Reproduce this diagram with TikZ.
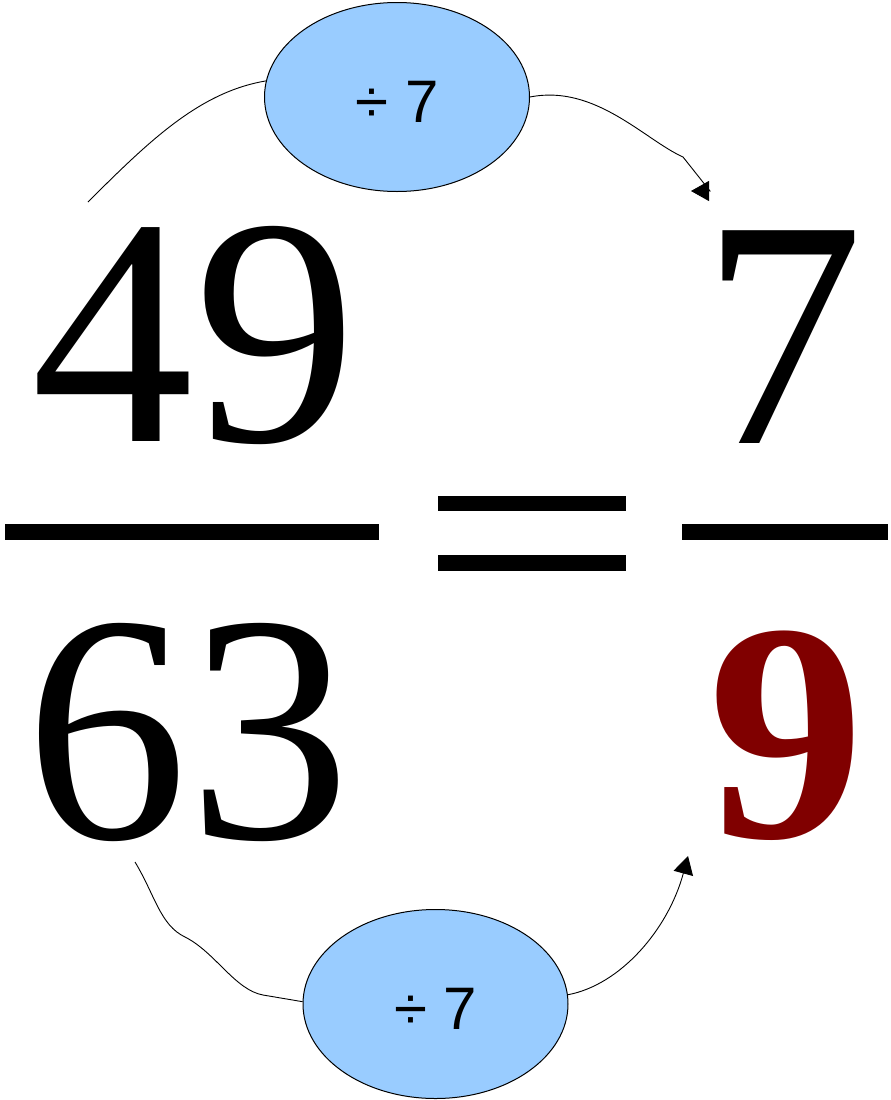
\documentclass[tikz,border=0pt]{standalone}
\usepackage{fontspec}
\setmainfont{Liberation Serif}
\newfontfamily\opfont{Liberation Sans}
\usepackage{tikz}
\usetikzlibrary{arrows.meta,shapes.geometric}
\definecolor{bubble}{HTML}{99CCFF}
\definecolor{answer}{HTML}{800000}

\begin{document}
\begin{tikzpicture}[x=1pt, y=-1pt, >={Triangle[length=18pt,width=20pt]},
  bigfig/.style={font=\fontsize{325}{325}\selectfont, inner sep=0pt, anchor=base},
  divop/.style={ellipse, draw, line width=1pt, fill=bubble, minimum width=265pt,
    minimum height=189pt, inner sep=0pt, text height=51pt, text depth=0pt,
    font=\opfont\fontsize{60}{60}\selectfont},
  link/.style={line width=0.9pt}]
\useasboundingbox (0,0) rectangle (891,1100);
% the two fractions
\node[bigfig] (n49) at (194,441) {49};
\node[bigfig] (n63) at (188,838) {63};
\node[bigfig] (n7) at (783,443) {7};
\node[bigfig, answer, font=\bfseries\fontsize{312}{312}\selectfont] (n9) at (786,837) {9};
% bars and equals sign
\fill (5,524) rectangle (379,540);
\fill (682,524) rectangle (888,540);
\fill (438,496) rectangle (626,511);
\fill (438,555) rectangle (626,571);
% divide by 7 bubbles
\node[divop] (top) at (397,97) {÷ 7};
\node[divop] (bot) at (435.5,1004) {÷ 7};
% loose ends of the links
\coordinate (s1) at (88,202);
\coordinate (t1) at (691,191);
\coordinate (s2) at (135,862);
\coordinate (t2) at (688,856);
% numerator path
\draw[link] (s1) .. controls (150,140) and (200,92) .. (top.173);
\draw[link, ->] (top.east) .. controls (595,84) and (645,140) .. (683,157) -- (710,191) -- (t1);
% denominator path
\draw[link] (s2) .. controls (155,895) and (160,925) .. (185,937)
  .. controls (215,952) and (235,990) .. (263,995) -- (bot.179);
\draw[link, ->] (bot.4) .. controls (620,985) and (668,930) .. (t2);
\end{tikzpicture}
\end{document}
